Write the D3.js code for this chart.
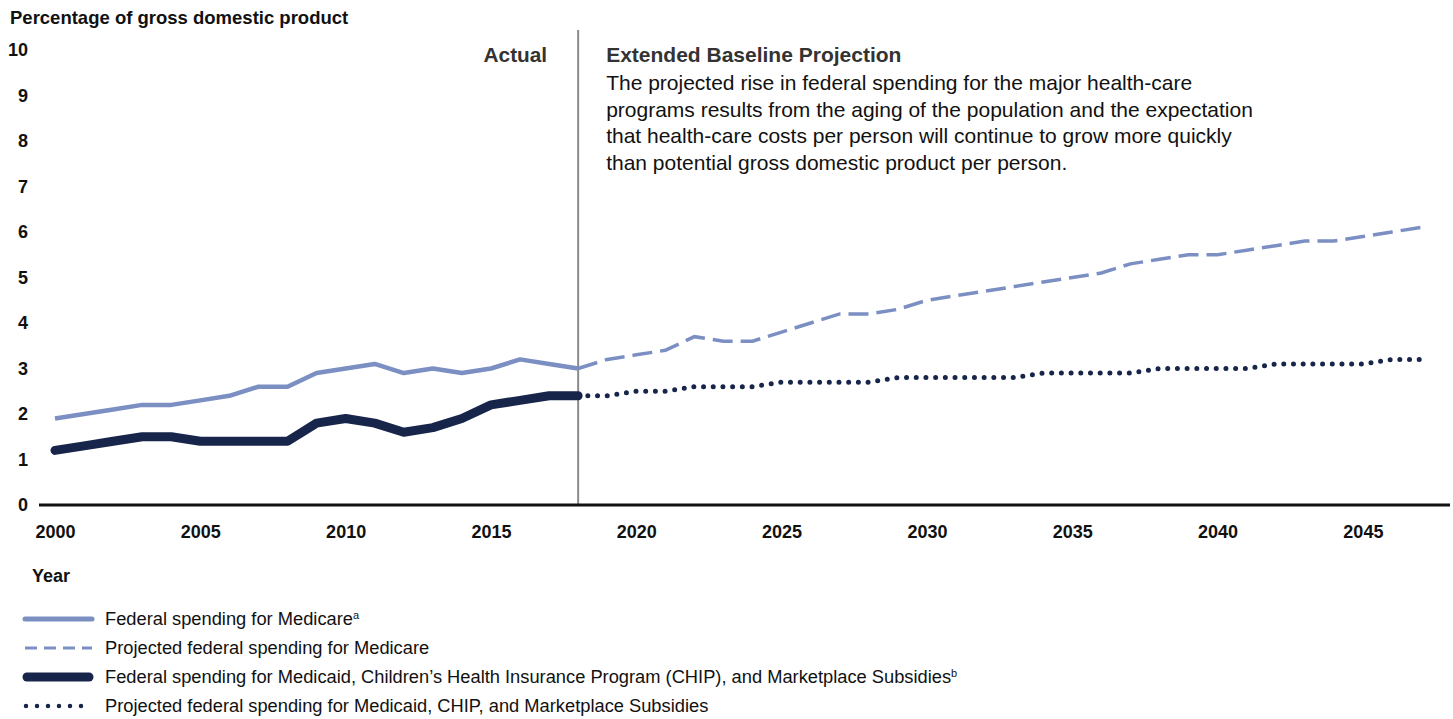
<!DOCTYPE html>
<html>
<head>
<meta charset="utf-8">
<script src="https://cdn.jsdelivr.net/npm/d3@7"></script>
<style>
  body { margin: 0; background: #fff; }
  svg { font-family: "Liberation Sans", Arial, sans-serif; }
  .tick text { font-weight: bold; fill: #111; }
</style>
</head>
<body>
<div id="area"></div>
<script>
// years and values (percentage of GDP)
var actualYears = d3.range(2000, 2019);
var projYears = d3.range(2018, 2048);

var medicareActual = [1.9, 2.0, 2.1, 2.2, 2.2, 2.3, 2.4, 2.6, 2.6, 2.9, 3.0, 3.1, 2.9, 3.0, 2.9, 3.0, 3.2, 3.1, 3.0];
var medicaidActual = [1.2, 1.3, 1.4, 1.5, 1.5, 1.4, 1.4, 1.4, 1.4, 1.8, 1.9, 1.8, 1.6, 1.7, 1.9, 2.2, 2.3, 2.4, 2.4];

var medicareProj = [3.0, 3.2, 3.3, 3.4, 3.7, 3.6, 3.6, 3.8, 4.0, 4.2, 4.2, 4.3, 4.5, 4.6, 4.7, 4.8, 4.9, 5.0, 5.1, 5.3,
                    5.4, 5.5, 5.5, 5.6, 5.7, 5.8, 5.8, 5.9, 6.0, 6.1];
var medicaidProj = [2.4, 2.4, 2.5, 2.5, 2.6, 2.6, 2.6, 2.7, 2.7, 2.7, 2.7, 2.8, 2.8, 2.8, 2.8, 2.8, 2.9, 2.9, 2.9, 2.9,
                    3.0, 3.0, 3.0, 3.0, 3.1, 3.1, 3.1, 3.1, 3.2, 3.2];

var xTicks = [2000, 2005, 2010, 2015, 2020, 2025, 2030, 2035, 2040, 2045];
var yTicks = [0, 1, 2, 3, 4, 5, 6, 7, 8, 9, 10];

var noteLines = [
  "The projected rise in federal spending for the major health-care",
  "programs results from the aging of the population and the expectation",
  "that health-care costs per person will continue to grow more quickly",
  "than potential gross domestic product per person."
];

var legendItems = [
  {text: "Federal spending for Medicare", sup: "a", kind: "medicareActual"},
  {text: "Projected federal spending for Medicare", sup: "", kind: "medicareProj"},
  {text: "Federal spending for Medicaid, Children\u2019s Health Insurance Program (CHIP), and Marketplace Subsidies", sup: "b", kind: "medicaidActual"},
  {text: "Projected federal spending for Medicaid, CHIP, and Marketplace Subsidies", sup: "", kind: "medicaidProj"}
];

var lightBlue = '#7b8fc3',
    navy = '#17254a',
    dividerColor = '#8a8a8a';

var width = 1453, height = 719;

var svg = d3.select("#area").append("svg")
    .attr("width", width)
    .attr("height", height);

var x = d3.scaleLinear().domain([2000, 2047]).range([55, 1421]);
var y = d3.scaleLinear().domain([0, 10]).range([505, 50]);

// y axis title
svg.append("text")
    .attr("x", 10).attr("y", 24)
    .attr("font-size", 18.5).attr("font-weight", "bold").attr("fill", "#111")
    .text("Percentage of gross domestic product");

// y axis labels
var yAxis = svg.append("g")
    .attr("transform", "translate(28,0)")
    .call(d3.axisLeft(y).tickValues(yTicks).tickSize(0).tickPadding(0).tickFormat(d3.format("d")));
yAxis.select(".domain").remove();
yAxis.selectAll("text").attr("font-size", 18).attr("font-family", null);

// x axis labels
var xAxis = svg.append("g")
    .attr("transform", "translate(0,505)")
    .call(d3.axisBottom(x).tickValues(xTicks).tickSize(0).tickPadding(20).tickFormat(d3.format("d")));
xAxis.select(".domain").remove();
xAxis.selectAll("text").attr("font-size", 18).attr("font-family", null);

svg.append("text")
    .attr("x", 32).attr("y", 582)
    .attr("font-size", 18).attr("font-weight", "bold").attr("fill", "#111")
    .text("Year");

// divider between actual and projected
svg.append("line")
    .attr("x1", x(2018)).attr("x2", x(2018))
    .attr("y1", 30).attr("y2", y(0))
    .attr("stroke", dividerColor).attr("stroke-width", 2);

svg.append("text")
    .attr("x", x(2018) - 31).attr("y", 62)
    .attr("text-anchor", "end")
    .attr("font-size", 20.8).attr("font-weight", "bold").attr("fill", "#333")
    .text("Actual");

svg.append("text")
    .attr("x", x(2018) + 28).attr("y", 62)
    .attr("font-size", 21).attr("font-weight", "bold").attr("fill", "#333")
    .text("Extended Baseline Projection");

svg.append("g").selectAll("text")
    .data(noteLines)
    .enter().append("text")
    .attr("x", x(2018) + 28)
    .attr("y", function(d, i) { return 90 + i * 26.7; })
    .attr("font-size", 21).attr("fill", "#111")
    .text(function(d) { return d; });

// baseline
svg.append("line")
    .attr("x1", 39).attr("x2", 1450)
    .attr("y1", y(0)).attr("y2", y(0))
    .attr("stroke", "#111").attr("stroke-width", 3);

var line = d3.line()
    .x(function(d) { return x(d[0]); })
    .y(function(d) { return y(d[1]); });

function pairs(years, vals) {
  return years.map(function(yr, i) { return [yr, vals[i]]; });
}

// projected lines
svg.append("path")
    .datum(pairs(projYears, medicareProj))
    .attr("d", line)
    .attr("fill", "none").attr("stroke", lightBlue)
    .attr("stroke-width", 3.5).attr("stroke-dasharray", "20,8");

svg.append("path")
    .datum(pairs(projYears, medicaidProj))
    .attr("d", line)
    .attr("fill", "none").attr("stroke", navy)
    .attr("stroke-width", 5).attr("stroke-linecap", "round")
    .attr("stroke-dasharray", "0,9.7");

// actual lines
svg.append("path")
    .datum(pairs(actualYears, medicareActual))
    .attr("d", line)
    .attr("fill", "none").attr("stroke", lightBlue)
    .attr("stroke-width", 4.5).attr("stroke-linejoin", "round");

svg.append("path")
    .datum(pairs(actualYears, medicaidActual))
    .attr("d", line)
    .attr("fill", "none").attr("stroke", navy)
    .attr("stroke-width", 9).attr("stroke-linejoin", "round").attr("stroke-linecap", "round");

// legend
var legend = svg.append("g").attr("transform", "translate(0,619)");
var rows = legend.selectAll("g")
    .data(legendItems)
    .enter().append("g")
    .attr("transform", function(d, i) { return "translate(0," + (i * 29) + ")"; });

rows.each(function(d) {
  var g = d3.select(this);
  var s = g.append("line").attr("x1", 25).attr("x2", 92).attr("y1", 0).attr("y2", 0).attr("fill", "none");
  if (d.kind == "medicareActual") {
    s.attr("stroke", lightBlue).attr("stroke-width", 5).attr("stroke-linecap", "round");
  } else if (d.kind == "medicareProj") {
    s.attr("stroke", lightBlue).attr("stroke-width", 3).attr("stroke-dasharray", "12,7");
  } else if (d.kind == "medicaidActual") {
    s.attr("x1", 27).attr("x2", 89).attr("stroke", navy).attr("stroke-width", 9).attr("stroke-linecap", "round");
  } else {
    s.attr("x1", 26).attr("stroke", navy).attr("stroke-width", 4.5).attr("stroke-linecap", "round").attr("stroke-dasharray", "0,11");
  }
  var t = g.append("text").attr("x", 105).attr("y", 6)
      .attr("font-size", 18.3).attr("fill", "#111")
      .text(d.text);
  if (d.sup) {
    t.append("tspan").attr("dy", -6).attr("font-size", 11).text(d.sup);
  }
});
</script>
</body>
</html>
